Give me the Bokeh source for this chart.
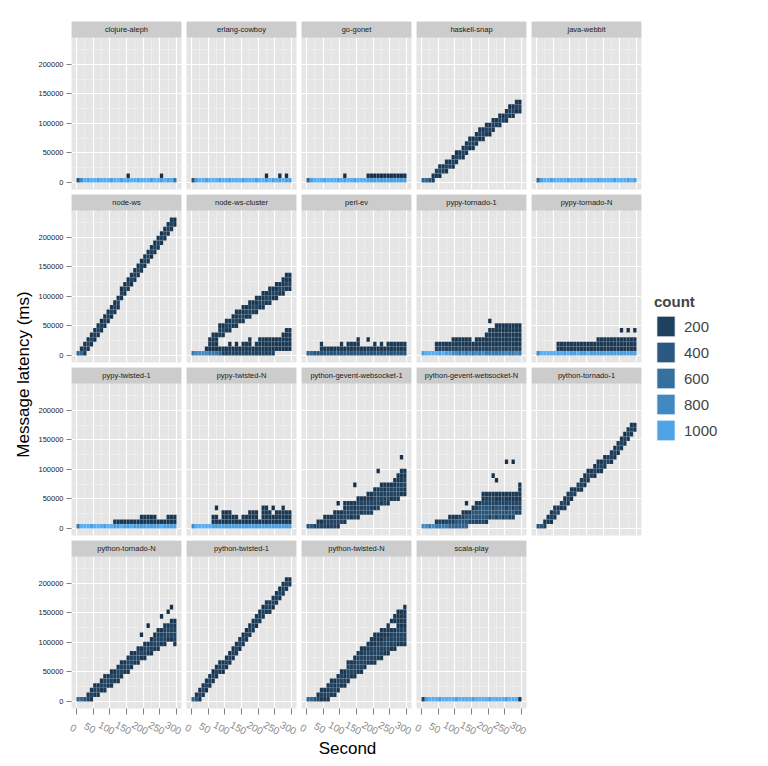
import math
from bokeh.plotting import figure
from bokeh.models import (Range1d, FixedTicker, BoxAnnotation, Label, ColumnDataSource,
                          Legend, LegendItem, Spacer, BasicTickFormatter)
from bokeh.layouts import row, column
from bokeh.embed import file_html
from bokeh.resources import INLINE

# ---------------------------------------------------------------- data
# Each panel: 30 columns of 10-second bins.  Entry "s:levels" means:
# starting at latency bin s, one character per latency bin ('.' = empty),
# the character being the approximate count level read off the colour.
LEVEL_COUNT = {"0": 2, "1": 30, "2": 100, "3": 200, "4": 350, "5": 500,
               "6": 650, "7": 800, "8": 950, "9": 1080}
COUNT_LIMITS = (1, 1100)
LEGEND_BREAKS = [200, 400, 600, 800, 1000]
X_TICKS = [0, 50, 100, 150, 200, 250, 300]
Y_TICKS = [0, 50000, 100000, 150000, 200000]
X_BIN_WIDTH = 10          # seconds per bin
Y_BIN_ORIGIN = -750       # ms, lower edge of first latency bin
Y_BIN_HEIGHT = 7833       # ms per latency bin

CLOJURE_ALEPH = ["0:4", "0:7", "0:9", "0:8", "0:9", "0:9", "0:8", "0:9", "0:9", "0:9",
                 "0:8", "0:9", "0:9", "0:8", "0:9", "0:80", "0:9", "0:9", "0:8", "0:9",
                 "0:9", "0:9", "0:8", "0:9", "0:9", "0:80", "0:9", "0:8", "0:9", "0:6"]
ERLANG_COWBOY = ["0:4", "0:8", "0:9", "0:9", "0:8", "0:9", "0:9", "0:9", "0:8", "0:9",
                 "0:9", "0:8", "0:9", "0:9", "0:9", "0:8", "0:9", "0:9", "0:9", "0:8",
                 "0:9", "0:9", "0:80", "0:9", "0:8", "0:9", "0:80", "0:9", "0:80", "0:8"]
GO_GONET = ["0:5", "0:8", "0:9", "0:9", "0:9", "0:8", "0:9", "0:9", "0:9", "0:8",
            "0:9", "0:80", "0:9", "0:9", "0:8", "0:9", "0:9", "0:9", "0:81", "0:81",
            "0:81", "0:81", "0:81", "0:81", "0:81", "0:81", "0:81", "0:81", "0:81", "0:81"]
HASKELL_SNAP = ["0:5", "0:5", "0:4", "0:32", "1:23", "1:132", "2:32", "2:232", "3:32", "3:232",
                "4:231", "5:32", "5:232", "6:232", "7:132", "7:232", "8:232", "9:132", "9:232", "10:232",
                "10:132", "11:232", "12:32", "12:232", "13:32", "13:232", "14:231", "14:232", "15:132", "15:231"]
JAVA_WEBBIT = ["0:5", "0:8", "0:9", "0:9", "0:8", "0:9", "0:9", "0:9", "0:9", "0:8",
               "0:9", "0:9", "0:9", "0:8", "0:9", "0:9", "0:9", "0:9", "0:8", "0:9",
               "0:9", "0:9", "0:9", "0:8", "0:9", "0:9", "0:9", "0:8", "0:9", "0:8"]
NODE_WS = ["0:5", "0:52", "0:232", "1:232", "2:232", "3:132", "4:232", "5:231", "6:232", "7:232",
           "8:132", "9:232", "10:232", "12:231", "13:232", "14:232", "15:132", "16:232", "17:232", "18:231",
           "19:232", "20:232", "21:132", "22:232", "23:232", "24:231", "25:232", "26:232", "27:232", "28:22"]
NODE_WS_CLUSTER = ["0:6", "0:7", "0:7", "0:7", "0:71", "0:6122", "0:61222", "0:61222", "0:52..232", "0:32..232",
                   "0:32...232", "0:321..232", "0:32....232", "0:321...2322", "0:32.....232",
                   "0:322....2322", "0:322.....232", "0:3222....2322", "0:32.......232", "0:322......2322",
                   "0:3222......232", "0:3222......2322", "0:3222.......232", "0:3222.......2322",
                   "0:3222........232", "1:222........2322", "1:222.........232", "1:2222........2322",
                   "1:22222........2322", "1:22222........2322"]
PERL_EV = ["0:5", "0:5", "0:4", "0:4", "0:422", "0:42", "0:42", "0:42", "0:42", "0:42",
           "0:422", "0:42", "0:422", "0:422", "0:422", "0:4222", "0:42", "0:42", "0:42.1", "0:42",
           "0:422", "0:42", "0:422", "0:42", "0:422", "0:422", "0:422", "0:422", "0:422", "0:422"]
PYPY_TORNADO_1 = ["0:8", "0:9", "0:9", "0:9", "0:932", "0:832", "0:932", "0:832", "0:832", "0:7322",
                  "0:7322", "0:6322", "0:7322", "0:6322", "0:7322", "0:632", "0:7322", "0:6322", "0:7322", "0:63222",
                  "0:632222.1", "0:632222", "0:6322222", "0:6322222", "0:6322222", "0:7322222", "0:6322222",
                  "0:6322222", "0:7322222", "0:6322222"]
PYPY_TORNADO_N = ["0:7", "0:9", "0:9", "0:9", "0:9", "0:9", "0:822", "0:922", "0:822", "0:922",
                  "0:822", "0:822", "0:922", "0:822", "0:822", "0:922", "0:822", "0:822", "0:8222", "0:8222",
                  "0:8222", "0:8222", "0:8222", "0:8222", "0:8222", "0:8222.1", "0:8222", "0:8222.1", "0:8222",
                  "0:8222.1"]
PYPY_TWISTED_1 = ["0:6", "0:9", "0:9", "0:9", "0:8", "0:9", "0:9", "0:9", "0:8", "0:9",
                  "0:9", "0:82", "0:82", "0:92", "0:82", "0:82", "0:92", "0:82", "0:82", "0:822",
                  "0:822", "0:822", "0:822", "0:822", "0:82", "0:92", "0:82", "0:822", "0:822", "0:822"]
PYPY_TWISTED_N = ["0:7", "0:9", "0:9", "0:9", "0:9", "0:9", "0:822", "0:822.1", "0:82", "0:8222",
                  "0:8222", "0:8222", "0:822", "0:822", "0:82", "0:822", "0:822", "0:8222", "0:8222", "0:8222",
                  "0:82", "0:82222", "0:82222", "0:8222", "0:822.1", "0:8222", "0:8222", "0:82222", "0:8222",
                  "0:8222"]
PYTHON_GEVENT_1 = ["0:4", "0:4", "0:3", "0:32", "0:32", "0:332", "0:232", "0:332", "0:3322", "0:2332.1",
                   "1:332", "1:23322", "2:3332", "2:2332", "2:3322...1", "2:23332", "3:2332", "3:3332", "3:23322",
                   "3:33322", "4:23332", "4:33332...1", "5:23332", "5:33322", "5:23332", "6:2332", "6:23322",
                   "6:233322", "7:233222..1", "7:223322"]
PYTHON_GEVENT_N = ["0:7", "0:7", "0:6", "0:7", "0:62", "0:63", "0:62", "0:63", "0:532", "0:532",
                   "0:542", "0:543", "0:5432", "0:5442.1", "1:342", "1:3442", "1:34432", "1:34442", "1:3444322",
                   "1:2444332", "2:344332", "2:443332...1", "2:344322..1", "2:444322", "2:344332",
                   "2:443322......1", "2:344322", "2:343322......1", "3:34322", "3:3332222"]
PYTHON_TORNADO_1 = ["0:4", "0:4", "0:32", "1:22", "1:232", "2:232", "3:32", "4:23", "4:232", "5:232",
                    "6:132", "7:32", "8:23", "8:232", "9:232", "10:231", "11:32", "11:232", "12:132", "12:232",
                    "13:231", "14:32", "14:232", "15:232", "16:132", "17:232", "18:231", "19:232", "20:232", "21:22"]
PYTHON_TORNADO_N = ["0:5", "0:5", "0:4", "0:32", "0:232", "1:232", "1:232", "2:232", "2:2332", "3:232",
                    "3:2332", "4:232", "4:2332", "5:2332", "6:232", "6:2332", "7:2332", "8:232", "8:2332",
                    "9:232..1", "9:2332", "10:232...1", "10:2332", "11:2332", "11:23332", "12:2332..1",
                    "12:23332", "13:2332..1", "13:23332..1", "12:233322"]
PYTHON_TWISTED_1 = ["0:5", "0:42", "0:232", "1:232", "2:132", "3:232", "4:231", "5:232", "6:232", "6:132",
                    "7:232", "8:231", "9:232", "10:232", "11:132", "12:232", "13:231", "14:232", "15:232", "16:132",
                    "17:232", "18:231", "19:232", "19:232", "20:132", "21:232", "22:231", "23:232", "24:232", "25:22"]
PYTHON_TWISTED_N = ["0:5", "0:5", "0:4", "0:32", "0:232", "0:232", "0:2322", "1:2332", "1:2322", "2:2332",
                    "3:2332", "3:2322", "4:23332", "5:2332", "5:23322", "6:23332", "6:233322", "7:23332", "8:23322",
                    "8:233322", "8:2333222", "9:233322", "9:2333222", "10:233322", "10:2333222", "11:23332.2",
                    "11:23332.22", "12:23332222", "12:23332222", "12:233322222"]
SCALA_PLAY = ["0:3", "0:8", "0:9", "0:9", "0:9", "0:8", "0:9", "0:9", "0:9", "0:9",
              "0:8", "0:9", "0:9", "0:9", "0:9", "0:8", "0:9", "0:9", "0:9", "0:9",
              "0:8", "0:9", "0:9", "0:9", "0:9", "0:8", "0:9", "0:9", "0:9", "0:2"]

PANEL_NAMES = ["clojure-aleph", "erlang-cowboy", "go-gonet", "haskell-snap", "java-webbit",
               "node-ws", "node-ws-cluster", "perl-ev", "pypy-tornado-1", "pypy-tornado-N",
               "pypy-twisted-1", "pypy-twisted-N", "python-gevent-websocket-1", "python-gevent-websocket-N",
               "python-tornado-1", "python-tornado-N", "python-twisted-1", "python-twisted-N", "scala-play"]
PANEL_DATA = [CLOJURE_ALEPH, ERLANG_COWBOY, GO_GONET, HASKELL_SNAP, JAVA_WEBBIT,
              NODE_WS, NODE_WS_CLUSTER, PERL_EV, PYPY_TORNADO_1, PYPY_TORNADO_N,
              PYPY_TWISTED_1, PYPY_TWISTED_N, PYTHON_GEVENT_1, PYTHON_GEVENT_N,
              PYTHON_TORNADO_1, PYTHON_TORNADO_N, PYTHON_TWISTED_1, PYTHON_TWISTED_N, SCALA_PLAY]

# ---------------------------------------------------------------- colour scale (ggplot2 default, Lab)
LOW, HIGH = "#132B43", "#56B1F7"


def _lin(c):
    c = c / 255.0
    return c / 12.92 if c <= 0.04045 else ((c + 0.055) / 1.055) ** 2.4


def _delin(c):
    c = max(0.0, min(1.0, c))
    v = 12.92 * c if c <= 0.0031308 else 1.055 * c ** (1 / 2.4) - 0.055
    return int(round(v * 255))


def hex_to_lab(h):
    r, g, b = [_lin(int(h[i:i + 2], 16)) for i in (1, 3, 5)]
    X = (0.4124 * r + 0.3576 * g + 0.1805 * b) / 0.95047
    Y = 0.2126 * r + 0.7152 * g + 0.0722 * b
    Z = (0.0193 * r + 0.1192 * g + 0.9505 * b) / 1.08883
    d = 6 / 29

    def f(t):
        return t ** (1 / 3) if t > d ** 3 else t / (3 * d * d) + 4 / 29
    fx, fy, fz = f(X), f(Y), f(Z)
    return 116 * fy - 16, 500 * (fx - fy), 200 * (fy - fz)


def lab_to_hex(L, a, b):
    d = 6 / 29
    fy = (L + 16) / 116
    fx = fy + a / 500
    fz = fy - b / 200

    def finv(t):
        return t ** 3 if t > d else 3 * d * d * (t - 4 / 29)
    X, Y, Z = 0.95047 * finv(fx), finv(fy), 1.08883 * finv(fz)
    r = 3.2406 * X - 1.5372 * Y - 0.4986 * Z
    g = -0.9689 * X + 1.8758 * Y + 0.0415 * Z
    bb = 0.0557 * X - 0.2040 * Y + 1.0570 * Z
    return "#%02x%02x%02x" % (_delin(r), _delin(g), _delin(bb))


LAB_LOW, LAB_HIGH = hex_to_lab(LOW), hex_to_lab(HIGH)


def count_color(c):
    t = (c - COUNT_LIMITS[0]) / (COUNT_LIMITS[1] - COUNT_LIMITS[0])
    t = max(0.0, min(1.0, t))
    return lab_to_hex(*[lo + (hi - lo) * t for lo, hi in zip(LAB_LOW, LAB_HIGH)])


def tiles(cols):
    d = dict(left=[], right=[], bottom=[], top=[], color=[])
    for i, entry in enumerate(cols):
        s, levels = entry.split(":")
        s = int(s)
        for k, ch in enumerate(levels):
            if ch == ".":
                continue
            j = s + k
            d["left"].append(i * X_BIN_WIDTH)
            d["right"].append((i + 1) * X_BIN_WIDTH)
            d["bottom"].append(Y_BIN_ORIGIN + j * Y_BIN_HEIGHT)
            d["top"].append(Y_BIN_ORIGIN + (j + 1) * Y_BIN_HEIGHT)
            d["color"].append(count_color(LEVEL_COUNT[ch]))
    return d


# ---------------------------------------------------------------- layout
FONT = "Liberation Sans"
FRAME_W, PANEL_H, STRIP_H = 110, 152, 16
X_RANGE = (-15, 315)
Y_PANEL = (-12500, 246000)
Y_TOP = Y_PANEL[1] + (Y_PANEL[1] - Y_PANEL[0]) * STRIP_H / PANEL_H
UNITS_PER_PX = (X_RANGE[1] - X_RANGE[0]) / FRAME_W
LABEL_ROW_H = 22
LABEL_SHIFT_PX = -3   # angled labels sit slightly left of their tick, as in ggplot


def borders(ci, ri, bottom_row):
    left = 37 if ci == 0 else 2
    right = 3
    top = 21 if ri == 0 else 0
    bottom = 8 if bottom_row else 5
    return left, right, top, bottom


def make_panel(name, cols, ci, ri, show_x):
    left, right, top, bottom = borders(ci, ri, ri == 3)
    p = figure(width=left + FRAME_W + right, height=top + PANEL_H + STRIP_H + bottom,
               x_range=Range1d(*X_RANGE), y_range=Range1d(Y_PANEL[0], Y_TOP),
               output_backend="svg", toolbar_location=None, title=None,
               x_axis_location="below" if show_x else None,
               y_axis_location="left" if ci == 0 else None,
               min_border_left=left, min_border_right=right,
               min_border_top=top, min_border_bottom=bottom,
               background_fill_color="#E5E5E5", border_fill_color="white",
               outline_line_color=None)
    for g in p.xgrid:
        g.ticker = FixedTicker(ticks=X_TICKS, minor_ticks=[25, 75, 125, 175, 225, 275])
    for g in p.ygrid:
        g.ticker = FixedTicker(ticks=Y_TICKS, minor_ticks=[25000, 75000, 125000, 175000, 225000])
    p.grid.grid_line_color = "white"
    p.grid.grid_line_width = 1.2
    p.grid.minor_grid_line_color = "#F2F2F2"
    p.grid.minor_grid_line_width = 0.6

    if ci == 0:
        ax = p.yaxis[0]
        ax.ticker = FixedTicker(ticks=Y_TICKS)
        ax.formatter = BasicTickFormatter(use_scientific=False)
        ax.axis_line_color = None
        ax.major_tick_line_color = "#7F7F7F"
        ax.major_tick_out = 5
        ax.major_tick_in = 0
        ax.minor_tick_line_color = None
        ax.major_label_text_font_size = "7.5px"
        ax.major_label_text_font = FONT
        ax.major_label_text_color = "#1A1A1A"
        ax.major_label_standoff = 3
    if show_x:
        ax = p.xaxis[0]
        ax.ticker = FixedTicker(ticks=X_TICKS)
        ax.axis_line_color = None
        ax.major_tick_line_color = "#7F7F7F"
        ax.major_tick_out = 6
        ax.major_tick_in = 0
        ax.minor_tick_line_color = None
        ax.major_label_overrides = {t: "" for t in X_TICKS}
        ax.major_label_standoff = 0

    src = ColumnDataSource(tiles(cols))
    p.quad(left="left", right="right", bottom="bottom", top="top", source=src,
           fill_color="color", line_color="white", line_alpha=0.12, line_width=0.6)

    p.add_layout(BoxAnnotation(left=X_RANGE[0], right=X_RANGE[1], bottom=Y_PANEL[1], top=Y_TOP,
                               fill_color="#CCCCCC", fill_alpha=1.0, line_color=None))
    p.add_layout(Label(x=(X_RANGE[0] + X_RANGE[1]) / 2, y=(Y_PANEL[1] + Y_TOP) / 2, text=name,
                       text_align="center", text_baseline="middle", text_font=FONT,
                       text_font_size="7.5px", text_color="#1A1A1A"))
    return p


def make_tick_labels(ci):
    """Angled x tick labels under a bottom-row panel, on the same x scale."""
    left, right, _, _ = borders(ci, 3, True)
    f = figure(width=left + FRAME_W + right, height=LABEL_ROW_H, output_backend="svg",
               toolbar_location=None, title=None, x_axis_location=None, y_axis_location=None,
               x_range=Range1d(X_RANGE[0] - left * UNITS_PER_PX, X_RANGE[1] + right * UNITS_PER_PX),
               y_range=Range1d(0, 1), min_border=0, outline_line_color=None,
               background_fill_color="white")
    f.grid.visible = False
    for t in X_TICKS:
        f.add_layout(Label(x=t, x_offset=LABEL_SHIFT_PX, y=LABEL_ROW_H - 11, y_units="screen",
                           text=str(t), angle=-0.5, text_align="center", text_baseline="middle",
                           text_font=FONT, text_font_size="10px", text_color="#8A8A8A"))
    return f


rows = []
n = len(PANEL_NAMES)
for ri in range(4):
    figs = []
    for ci in range(5):
        k = ri * 5 + ci
        if k < n:
            show_x = (k + 5 >= n) and ri == 3
            figs.append(make_panel(PANEL_NAMES[k], PANEL_DATA[k], ci, ri, show_x))
        else:
            figs.append(Spacer(width=2 + FRAME_W + 3, height=PANEL_H + STRIP_H + 8))
    rows.append(row(*figs))
label_cells = [make_tick_labels(ci) for ci in range(4)]
label_cells.append(Spacer(width=2 + FRAME_W + 3, height=LABEL_ROW_H))
rows.append(row(*label_cells))
panels = column(*rows)
TOTAL_H = 21 + (PANEL_H + STRIP_H + 5) * 3 + PANEL_H + STRIP_H + 8 + LABEL_ROW_H


def blank(w, h):
    f = figure(width=w, height=h, output_backend="svg", toolbar_location=None, title=None,
               x_axis_location=None, y_axis_location=None, x_range=Range1d(0, 1), y_range=Range1d(0, 1),
               min_border=0, outline_line_color=None, background_fill_color="white")
    f.grid.visible = False
    return f


ytitle = blank(34, TOTAL_H)
ytitle.add_layout(Label(x=23, y=TOTAL_H - 374, x_units="screen", y_units="screen",
                        text="Message latency (ms)", angle=math.pi / 2, text_align="center",
                        text_baseline="middle", text_font=FONT, text_font_size="17px", text_color="black"))

leg = blank(124, TOTAL_H)
items = []
for v in LEGEND_BREAKS:
    r = leg.quad(left=[-5], right=[-4], bottom=[-5], top=[-4], fill_color=count_color(v),
                 line_color="white", line_width=1)
    items.append(LegendItem(label=str(v), renderers=[r]))
legend = Legend(items=items, location=(10, TOTAL_H - 443), title="count",
                title_text_font_style="bold", title_text_font_size="15px", title_text_font=FONT,
                label_text_font_size="15px", label_text_font=FONT, glyph_width=23, glyph_height=26,
                spacing=0, padding=0, margin=0, label_standoff=7, border_line_color=None,
                background_fill_alpha=0, title_standoff=3)
leg.add_layout(legend)

xtitle = blank(768, 766 - TOTAL_H)
xtitle.add_layout(Label(x=347, y=(766 - TOTAL_H) - 10, x_units="screen", y_units="screen",
                        text="Second", text_align="center", text_baseline="middle",
                        text_font=FONT, text_font_size="17px", text_color="black"))

layout = column(row(ytitle, panels, leg), xtitle)

with open("out.html", "w") as fh:
    fh.write(file_html(layout, INLINE))
